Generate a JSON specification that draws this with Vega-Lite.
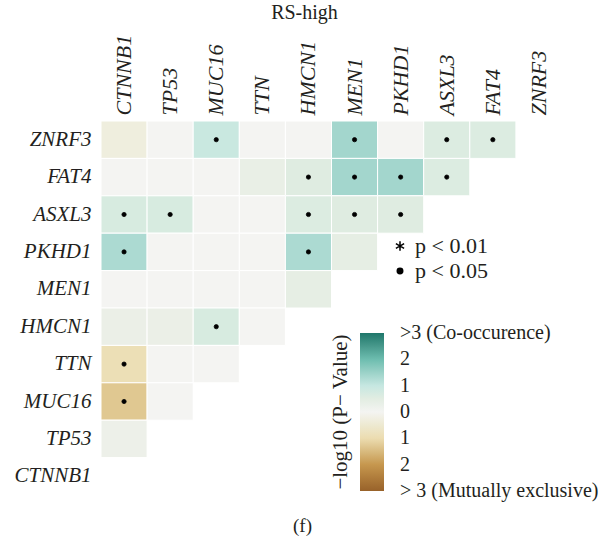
{
  "$schema": "https://vega.github.io/schema/vega-lite/v6.json",
  "autosize": "none",
  "width": 461,
  "height": 374,
  "padding": {"left": 101, "top": 121, "right": 43, "bottom": 44},
  "background": "white",
  "title": {"text": "(f)", "orient": "bottom", "anchor": "middle", "dx": -29, "offset": 16, "font": "Liberation Serif", "fontSize": 19, "fontWeight": "normal", "color": "#231f20"},
  "config": {
    "view": {"stroke": null},
    "font": "Liberation Serif"
  },
  "data": {
    "values": [
      {"r": "ZNRF3", "c": "CTNNB1", "v": -0.3},
      {"r": "ZNRF3", "c": "TP53", "v": 0},
      {"r": "ZNRF3", "c": "MUC16", "v": 0.95, "s": "p < 0.05"},
      {"r": "ZNRF3", "c": "TTN", "v": 0},
      {"r": "ZNRF3", "c": "HMCN1", "v": 0},
      {"r": "ZNRF3", "c": "MEN1", "v": 1.4, "s": "p < 0.05"},
      {"r": "ZNRF3", "c": "PKHD1", "v": 0},
      {"r": "ZNRF3", "c": "ASXL3", "v": 0.6, "s": "p < 0.05"},
      {"r": "ZNRF3", "c": "FAT4", "v": 0.6, "s": "p < 0.05"},
      {"r": "FAT4", "c": "CTNNB1", "v": 0},
      {"r": "FAT4", "c": "TP53", "v": 0},
      {"r": "FAT4", "c": "MUC16", "v": 0},
      {"r": "FAT4", "c": "TTN", "v": 0.35},
      {"r": "FAT4", "c": "HMCN1", "v": 0.55, "s": "p < 0.05"},
      {"r": "FAT4", "c": "MEN1", "v": 1.4, "s": "p < 0.05"},
      {"r": "FAT4", "c": "PKHD1", "v": 1.4, "s": "p < 0.05"},
      {"r": "FAT4", "c": "ASXL3", "v": 0.6, "s": "p < 0.05"},
      {"r": "ASXL3", "c": "CTNNB1", "v": 0.7, "s": "p < 0.05"},
      {"r": "ASXL3", "c": "TP53", "v": 0.7, "s": "p < 0.05"},
      {"r": "ASXL3", "c": "MUC16", "v": 0},
      {"r": "ASXL3", "c": "TTN", "v": 0},
      {"r": "ASXL3", "c": "HMCN1", "v": 0.6, "s": "p < 0.05"},
      {"r": "ASXL3", "c": "MEN1", "v": 0.55, "s": "p < 0.05"},
      {"r": "ASXL3", "c": "PKHD1", "v": 0.55, "s": "p < 0.05"},
      {"r": "PKHD1", "c": "CTNNB1", "v": 1.3, "s": "p < 0.05"},
      {"r": "PKHD1", "c": "TP53", "v": 0},
      {"r": "PKHD1", "c": "MUC16", "v": 0},
      {"r": "PKHD1", "c": "TTN", "v": 0},
      {"r": "PKHD1", "c": "HMCN1", "v": 1.3, "s": "p < 0.05"},
      {"r": "PKHD1", "c": "MEN1", "v": 0.4},
      {"r": "MEN1", "c": "CTNNB1", "v": 0},
      {"r": "MEN1", "c": "TP53", "v": 0},
      {"r": "MEN1", "c": "MUC16", "v": 0},
      {"r": "MEN1", "c": "TTN", "v": 0},
      {"r": "MEN1", "c": "HMCN1", "v": 0.4},
      {"r": "HMCN1", "c": "CTNNB1", "v": 0.3},
      {"r": "HMCN1", "c": "TP53", "v": 0.3},
      {"r": "HMCN1", "c": "MUC16", "v": 0.7, "s": "p < 0.05"},
      {"r": "HMCN1", "c": "TTN", "v": 0},
      {"r": "TTN", "c": "CTNNB1", "v": -0.9, "s": "p < 0.05"},
      {"r": "TTN", "c": "TP53", "v": 0},
      {"r": "TTN", "c": "MUC16", "v": 0},
      {"r": "MUC16", "c": "CTNNB1", "v": -1.3, "s": "p < 0.05"},
      {"r": "MUC16", "c": "TP53", "v": 0},
      {"r": "TP53", "c": "CTNNB1", "v": 0.25}
    ]
  },
  "encoding": {
    "x": {
      "field": "c", "type": "nominal",
      "scale": {"domain": ["CTNNB1", "TP53", "MUC16", "TTN", "HMCN1", "MEN1", "PKHD1", "ASXL3", "FAT4", "ZNRF3"], "paddingInner": 0, "paddingOuter": 0},
      "axis": {"orient": "top", "title": "RS-high", "titleX": 203, "titlePadding": 12, "titleFont": "Liberation Serif", "titleFontSize": 20, "titleFontWeight": "normal", "titleColor": "#231f20", "labelAngle": -90, "labelAlign": "left", "labelBaseline": "middle", "labelPadding": 6, "labelFont": "Liberation Serif", "labelFontStyle": "italic", "labelFontSize": 22, "labelColor": "#231f20", "ticks": false, "domain": false}
    },
    "y": {
      "field": "r", "type": "nominal",
      "scale": {"domain": ["ZNRF3", "FAT4", "ASXL3", "PKHD1", "MEN1", "HMCN1", "TTN", "MUC16", "TP53", "CTNNB1"], "paddingInner": 0, "paddingOuter": 0},
      "axis": {"title": null, "labelPadding": 10, "labelFont": "Liberation Serif", "labelFontStyle": "italic", "labelFontSize": 21, "labelColor": "#231f20", "ticks": false, "domain": false}
    }
  },
  "layer": [
    {
      "mark": {"type": "rect", "stroke": "white", "strokeWidth": 1},
      "encoding": {
        "color": {
          "field": "v", "type": "quantitative",
          "scale": {"domain": [-3, -2, -1, 0, 1, 2, 3], "range": ["#98622a", "#c6974e", "#ecdcb0", "#f4f4f2", "#c6e7e1", "#6dbdaf", "#1f776b"], "clamp": true},
          "legend": {
            "orient": "none", "legendX": 229, "legendY": 212,
            "title": "−log10 (P− Value)", "titleOrient": "left", "titleFont": "Liberation Serif", "titleFontSize": 21, "titleFontWeight": "normal", "titleColor": "#231f20", "titlePadding": 8,
            "direction": "vertical", "gradientLength": 158, "gradientThickness": 24,
            "values": [-3, -2, -1, 0, 1, 2, 3],
            "labelExpr": "datum.value == 3 ? '>3 (Co-occurence)' : datum.value == -3 ? '> 3 (Mutually exclusive)' : '' + abs(datum.value)",
            "labelFont": "Liberation Serif", "labelFontSize": 20, "labelColor": "#231f20", "labelOffset": 16, "labelOverlap": false, "labelBaseline": "middle",
            "encode": {"labels": {"update": {"baseline": {"value": "middle"}}}}
          }
        }
      }
    },
    {
      "transform": [{"filter": "datum.s != null"}],
      "mark": {"type": "point", "filled": false, "fill": "black", "stroke": "black", "strokeWidth": 0.8, "size": 18, "opacity": 1, "fillOpacity": 1},
      "encoding": {
        "shape": {
          "field": "s", "type": "nominal",
          "scale": {"domain": ["p < 0.01", "p < 0.05"], "range": ["M0,-1.7L0,1.7M-1.5,-0.85L1.5,0.85M-1.5,0.85L1.5,-0.85", "circle"]},
          "legend": {
            "orient": "none", "legendX": 288, "legendY": 114, "title": null,
            "labelFont": "Liberation Serif", "labelFontSize": 22, "labelColor": "#231f20", "labelOffset": 4,
            "symbolSize": 30, "rowPadding": 3,
            "encode": {"symbols": {"update": {"stroke": {"value": "black"}, "strokeWidth": {"value": 0.8}, "fill": {"value": "black"}, "opacity": {"value": 1}, "strokeOpacity": {"value": 1}}}}
          }
        }
      }
    }
  ]
}
